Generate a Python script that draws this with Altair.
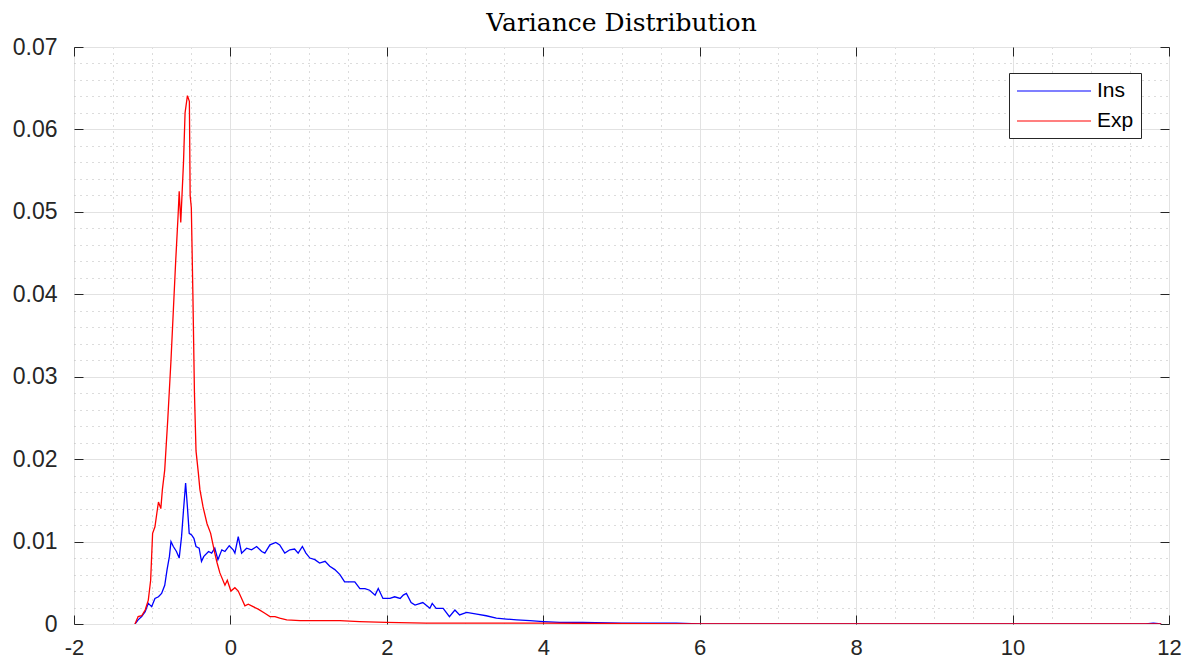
import altair as alt
import pandas as pd

# ---- data ----
ins_x = [-1.22, -1.18, -1.135, -1.09, -1.05, -1.007, -0.965, -0.92, -0.88, -0.84, -0.81, -0.78,
         -0.76, -0.73, -0.69, -0.655, -0.625, -0.6, -0.573, -0.55, -0.527, -0.497, -0.467, -0.44,
         -0.4, -0.37, -0.34, -0.28, -0.24, -0.2, -0.16, -0.11, -0.07, -0.015, 0.035, 0.057, 0.1,
         0.143, 0.207, 0.27, 0.335, 0.4, 0.44, 0.505, 0.58, 0.63, 0.695, 0.76, 0.82, 0.866, 0.92,
         0.965, 1.016, 1.08, 1.14, 1.21, 1.27, 1.335, 1.4, 1.46, 1.53, 1.59, 1.655, 1.72, 1.78,
         1.85, 1.89, 1.95, 2.04, 2.1, 2.17, 2.21, 2.25, 2.31, 2.36, 2.46, 2.55, 2.58, 2.63, 2.72,
         2.8, 2.87, 2.93, 3.02, 3.15, 3.27, 3.4, 3.53, 3.66, 3.83, 4.0, 4.21, 4.5, 5.0, 5.3, 5.7,
         6.0, 8.0, 10.0, 11.7, 11.8, 11.9]
ins_y = [0.0, 0.0005, 0.0009, 0.0015, 0.0025, 0.0021, 0.0031, 0.0033, 0.0037, 0.0047, 0.0066, 0.0082,
         0.0100, 0.0094, 0.0088, 0.0080, 0.0106, 0.0138, 0.0171, 0.0142, 0.0110, 0.0108, 0.0104, 0.0094,
         0.0092, 0.0076, 0.0082, 0.0088, 0.0086, 0.0092, 0.0078, 0.0090, 0.0088, 0.0095, 0.0090, 0.0086, 0.0106,
         0.0086, 0.0092, 0.0090, 0.0094, 0.0088, 0.0086, 0.0096, 0.0099, 0.0096, 0.0086, 0.0090, 0.0091, 0.0086, 0.0094,
         0.0086, 0.0080, 0.0078, 0.0074, 0.0076, 0.0070, 0.0066, 0.0060, 0.0051, 0.0051, 0.0051, 0.0043, 0.0043, 0.0041,
         0.0035, 0.0043, 0.0031, 0.0031, 0.0033, 0.0031, 0.0035, 0.0037, 0.0026, 0.0023, 0.0026, 0.0019, 0.0025, 0.0019, 0.0019,
         0.0009, 0.0017, 0.0011, 0.0014, 0.0012, 0.0010, 0.0007, 0.0006, 0.0005, 0.0004, 0.0003, 0.0002, 0.0002, 0.0001, 0.0001, 0.0001,
         0.0, 0.0, 0.0, 0.0, 0.0001, 0.0]

exp_x = [-1.22, -1.18, -1.135, -1.09, -1.05, -1.02, -0.995, -0.965, -0.94, -0.92, -0.89, -0.87, -0.84,
         -0.8, -0.76, -0.73, -0.7, -0.67, -0.655, -0.635, -0.6, -0.58, -0.55, -0.525, -0.515, -0.5,
         -0.48, -0.46, -0.44, -0.41, -0.39, -0.35, -0.3, -0.253, -0.2, -0.17, -0.135, -0.07, -0.04,
         0.006, 0.057, 0.1, 0.143, 0.185, 0.228, 0.29, 0.355, 0.44, 0.505, 0.57, 0.63, 0.72, 0.89,
         1.14, 1.4, 1.65, 1.99, 2.5, 3.0, 4.0, 6.0, 8.0, 10.0, 11.9]
exp_y = [0.0, 0.0009, 0.0010, 0.0017, 0.0029, 0.0053, 0.0110, 0.0118, 0.0135, 0.0148, 0.0140, 0.0163, 0.0187,
         0.025, 0.032, 0.038, 0.044, 0.0494, 0.0525, 0.0487, 0.056, 0.062, 0.0641, 0.0634, 0.052, 0.0505,
         0.040, 0.028, 0.021, 0.0183, 0.0163, 0.0142, 0.0122, 0.0110, 0.0086, 0.0074, 0.0062, 0.0047, 0.0053,
         0.0040, 0.0044, 0.0040, 0.0031, 0.0022, 0.0024, 0.0021, 0.0018, 0.0013, 0.0009, 0.0009, 0.0007, 0.0005, 0.0004,
         0.0004, 0.0004, 0.0003, 0.0002, 0.0001, 0.0001, 0.0001, 0.0, 0.0, 0.0, 0.0]

series_names = ["Ins", "Exp"]
series_colors = ["#0000ff", "#ff0000"]

x_major = [-2, 0, 2, 4, 6, 8, 10, 12]
x_minor = [-1.5, -1, -0.5, 0.5, 1, 1.5, 2.5, 3, 3.5, 4.5, 5, 5.5, 6.5, 7, 7.5, 8.5, 9, 9.5, 10.5, 11, 11.5]
y_major = [0, 0.01, 0.02, 0.03, 0.04, 0.05, 0.06, 0.07]
y_minor = [0.002, 0.004, 0.006, 0.008, 0.012, 0.014, 0.016, 0.018, 0.022, 0.024, 0.026, 0.028,
           0.032, 0.034, 0.036, 0.038, 0.042, 0.044, 0.046, 0.048, 0.052, 0.054, 0.056, 0.058,
           0.062, 0.064, 0.066, 0.068]

W, H = 1095, 577

ins_df = pd.DataFrame({"x": ins_x, "y": ins_y, "series": "Ins"})
exp_df = pd.DataFrame({"x": exp_x, "y": exp_y, "series": "Exp"})
all_df = pd.concat([ins_df, exp_df], ignore_index=True)

xs = alt.Scale(domain=[-2, 12], nice=False, zero=False)
ys = alt.Scale(domain=[0, 0.07], nice=False, zero=False)
LBL = "Liberation Sans"

def axis_layer(xaxis, yaxis):
    return alt.Chart(all_df).mark_line(strokeOpacity=0).encode(
        x=alt.X("x:Q", scale=xs, axis=xaxis),
        y=alt.Y("y:Q", scale=ys, axis=yaxis),
        detail="series:N",
    )

minor = axis_layer(
    alt.Axis(orient="bottom", values=x_minor, grid=True, gridDash=[1, 5], gridColor="#b8b8b8",
             labels=False, ticks=False, domain=False, title=None),
    alt.Axis(orient="left", values=y_minor, grid=True, gridDash=[1, 5], gridColor="#b8b8b8",
             labels=False, ticks=False, domain=False, title=None),
)
major = axis_layer(
    alt.Axis(orient="bottom", values=x_major, grid=True, gridColor="#e2e2e2", gridWidth=1,
             labels=True, labelFont=LBL, labelFontSize=22, labelColor="#262626", labelPadding=13,
             labelExpr="toString(datum.value)", labelFlush=False, labelOverlap=False,
             ticks=False, domain=False, title=None),
    alt.Axis(orient="left", values=y_major, grid=True, gridColor="#e2e2e2", gridWidth=1,
             labels=True, labelFont=LBL, labelFontSize=23, labelColor="#262626", labelPadding=17,
             labelExpr="toString(datum.value)", labelFlush=False, labelOverlap=False,
             ticks=False, domain=False, title=None),
)
ticks_a = axis_layer(
    alt.Axis(orient="top", offset=-H, values=x_major, ticks=True, tickSize=9, tickColor="#262626",
             labels=False, domain=False, grid=False, title=None),
    alt.Axis(orient="right", offset=-W, values=y_major, ticks=True, tickSize=9, tickColor="#262626",
             labels=False, domain=False, grid=False, title=None),
)
ticks_b = axis_layer(
    alt.Axis(orient="bottom", offset=-H, values=x_major, ticks=True, tickSize=9, tickColor="#262626",
             labels=False, domain=False, grid=False, title=None),
    alt.Axis(orient="left", offset=-W, values=y_major, ticks=True, tickSize=9, tickColor="#262626",
             labels=False, domain=False, grid=False, title=None),
)

color = alt.Color(
    "series:N",
    scale=alt.Scale(domain=series_names, range=series_colors),
    legend=alt.Legend(orient="none", legendX=935, legendY=26, title=None,
                      symbolType="M-1,0H6.4", symbolSize=400, symbolStrokeWidth=1.2,
                      labelFont=LBL, labelFontSize=21, labelColor="#000000",
                      strokeColor="#262626", fillColor="white", padding=7,
                      rowPadding=9, labelOffset=59),
)

def line_layer(df):
    return alt.Chart(df).mark_line(strokeWidth=1.3, clip=True).encode(
        x=alt.X("x:Q", scale=xs, axis=None),
        y=alt.Y("y:Q", scale=ys, axis=None),
        color=color,
    )

chart = alt.layer(minor, major, line_layer(ins_df), line_layer(exp_df), ticks_a, ticks_b).resolve_axis(
    x="independent", y="independent"
).properties(
    width=W,
    height=H,
    title=alt.Title("Variance Distribution", font="DejaVu Serif", fontSize=25, fontWeight="normal",
                    color="#000000", anchor="middle", offset=0),
    autosize=alt.AutoSizeParams(type="none"),
    padding={"left": 74, "top": 47, "right": 26, "bottom": 38},
    background="white",
).configure_view(stroke="#262626", strokeWidth=1)

chart.save("out.html", embed_options={"renderer": "svg", "actions": False})
